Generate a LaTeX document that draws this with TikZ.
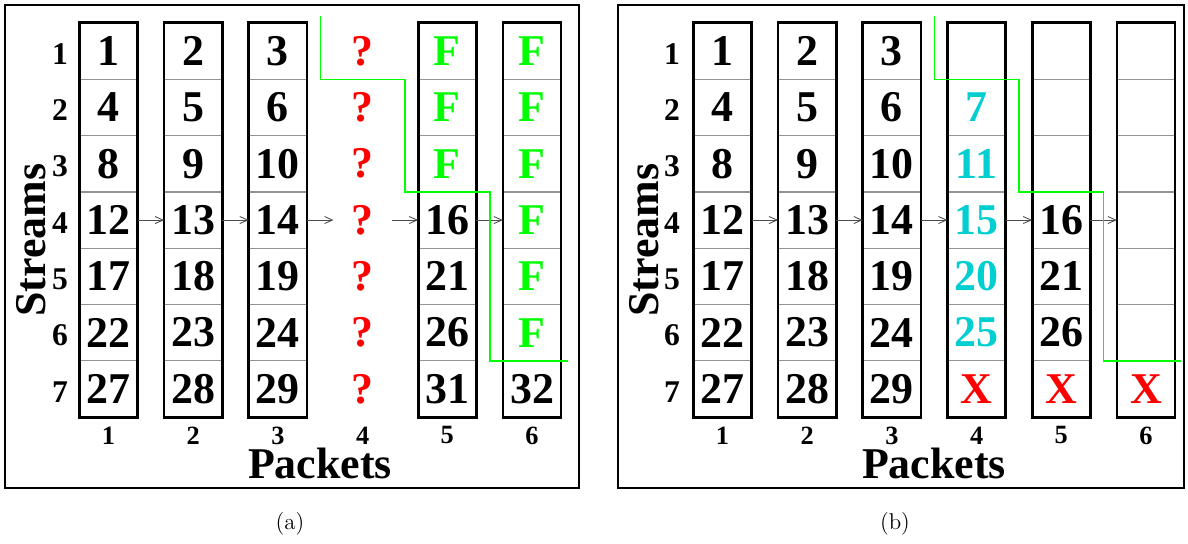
\documentclass[tikz,border=0pt]{standalone}
\usepackage{fontspec}
\usepackage{xcolor}
\usepackage{tikz}
\usetikzlibrary{arrows.meta}

\newfontfamily\tnr{Liberation Serif}
\definecolor{pktcyan}{RGB}{0,206,209}
\newcommand{\pq}{\textcolor{red}{?}}
\newcommand{\pf}{\textcolor{green}{F}}
\newcommand{\px}{\textcolor{red}{X}}
\newcommand{\pc}[1]{\textcolor{pktcyan}{#1}}

\begin{document}
\begin{tikzpicture}[x=0.02cm, y=-0.02cm]
	\tikzset{
		cell/.style={rectangle, draw=gray!85, line width=0.7pt, minimum width=1.14cm, minimum height=1.126cm, inner sep=0pt, font=\tnr\bfseries\fontsize{25}{25}\selectfont},
		nocell/.style={cell, draw=none},
		colbox/.style={draw=black, line width=1.5pt},
		rowlab/.style={font=\tnr\bfseries\fontsize{18}{18}\selectfont},
		collab/.style={font=\tnr\bfseries\fontsize{15}{15}\selectfont},
		axis/.style={font=\tnr\bfseries\fontsize{25}{25}\selectfont},
		flow/.style={draw=gray!60!black, line width=0.5pt, -{Straight Barb[length=4.5pt, width=4pt]}},
		cut/.style={draw=green, line width=0.8pt},
		panel/.style={draw=black, line width=1.1pt}
	}
	\useasboundingbox (0,0) rectangle (1188,544);

	% Panel (a): packet 4 still unknown
	\draw[panel] (5,5) rectangle (579,488);
	\foreach \c/\vals in {1/{1,4,8,12,17,22,27}, 2/{2,5,9,13,18,23,28}, 3/{3,6,10,14,19,24,29}, 5/{\pf,\pf,\pf,16,21,26,31}, 6/{\pf,\pf,\pf,\pf,\pf,\pf,32}}
		\foreach \t [count=\r] in \vals
			\node[cell] (a-\r-\c) at (108.5+84.7*\c-84.7, 51.15+56.3*\r-56.3) {\t};
	\foreach \r in {1,...,7}
		\node[nocell] (a-\r-4) at (362.6, 51.15+56.3*\r-56.3) {\pq};
	\foreach \c in {1,2,3,5,6}
		\draw[colbox] (a-1-\c.north west) rectangle (a-7-\c.south east);
	\foreach \c [evaluate=\c as \n using int(\c+1)] in {1,...,5}
		\draw[flow] (a-4-\c.east) -- (a-4-\n.west);

	% labels of panel (a)
	\foreach \r in {1,...,7}
		\node[rowlab] (ra-\r) at (60, 54+56.3*\r-56.3) {\r};
	\foreach \c in {1,...,6}
		\node[collab] (ca-\c) at (108.5+84.7*\c-84.7, 435.5) {\c};
	\node[axis, rotate=90] (sa) at (31, 240) {Streams};
	\node[axis, anchor=base] (pa) at (320, 478) {Packets};
	\draw[cut] (320.5,16) |- (405.2,79.3) |- (489.9,191.9) |- (568,360.8);

	% Panel (b): packets recovered
	\draw[panel] (618,5) rectangle (1184,488);
	\foreach \c/\vals in {1/{1,4,8,12,17,22,27}, 2/{2,5,9,13,18,23,28}, 3/{3,6,10,14,19,24,29}, 4/{{},\pc{7},\pc{11},\pc{15},\pc{20},\pc{25},\px}, 5/{{},{},{},16,21,26,\px}, 6/{{},{},{},{},{},{},\px}}
		\foreach \t [count=\r] in \vals
			\node[cell] (b-\r-\c) at (722.5+84.7*\c-84.7, 51.15+56.3*\r-56.3) {\t};
	\foreach \c in {1,...,6}
		\draw[colbox] (b-1-\c.north west) rectangle (b-7-\c.south east);
	\foreach \c [evaluate=\c as \n using int(\c+1)] in {1,...,5}
		\draw[flow] (b-4-\c.east) -- (b-4-\n.west);

	% labels of panel (b)
	\foreach \r in {1,...,7}
		\node[rowlab] (rb-\r) at (672, 54+56.3*\r-56.3) {\r};
	\foreach \c in {1,...,6}
		\node[collab] (cb-\c) at (722.5+84.7*\c-84.7, 435.5) {\c};
	\node[axis, rotate=90] (sb) at (644, 240) {Streams};
	\node[axis, anchor=base] (pb) at (934, 478) {Packets};
	\draw[cut] (934.2,16) |- (1018.9,79.3) |- (1103.6,191.9) |- (1181,360.8);

	% captions
	\node[font=\fontsize{13}{15}\selectfont] (capa) at (290,524) {(a)};
	\node[font=\fontsize{13}{15}\selectfont] (capb) at (895,524) {(b)};
\end{tikzpicture}
\end{document}
